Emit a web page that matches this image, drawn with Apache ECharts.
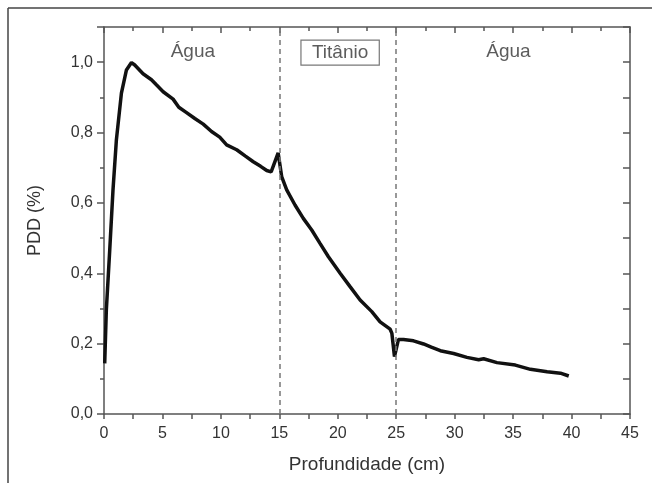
<!DOCTYPE html>
<html>
<head>
<meta charset="utf-8">
<script src="https://cdn.jsdelivr.net/npm/echarts@6/dist/echarts.min.js"></script>
<style>
  html, body { margin: 0; padding: 0; background: #fff; }
  #chart { width: 652px; height: 483px; }
</style>
</head>
<body>
<div id="chart"></div>
<script>
// depth (cm) and PDD
var depth = [0.06, 0.2, 0.49, 0.77, 1.06, 1.49, 1.92, 2.35, 2.63, 3.34, 4.06, 4.5, 5.06, 5.91, 6.4, 7.0, 7.77, 8.49, 9.2, 9.9, 10.49, 11.35, 12.1, 12.77, 13.4, 13.92, 14.3, 14.9, 15.2, 15.63, 16.34, 17.05, 17.77, 18.48, 19.2, 20.2, 21.05, 21.91, 22.91, 23.62, 24.48, 24.63, 24.85, 25.19, 25.62, 26.48, 27.34, 28.0, 28.77, 29.91, 31.05, 32.05, 32.48, 33.62, 35.19, 36.48, 37.91, 39.05, 39.76];
var pdd   = [0.144, 0.296, 0.466, 0.637, 0.779, 0.912, 0.978, 0.999, 0.992, 0.967, 0.950, 0.935, 0.916, 0.895, 0.872, 0.858, 0.840, 0.824, 0.803, 0.787, 0.765, 0.751, 0.733, 0.717, 0.704, 0.692, 0.688, 0.742, 0.675, 0.637, 0.594, 0.556, 0.523, 0.485, 0.447, 0.400, 0.362, 0.324, 0.291, 0.262, 0.241, 0.229, 0.163, 0.212, 0.212, 0.208, 0.199, 0.190, 0.180, 0.172, 0.161, 0.154, 0.157, 0.146, 0.139, 0.127, 0.120, 0.116, 0.108];

var boundaries = [15, 25];

var regionText = ['Água', 'Titânio', 'Água'];
var regionX = [7.6, 20.2, 34.6];
var regionY = [1.03, 1.027, 1.03];

var yTicks = ['0,0', '0,2', '0,4', '0,6', '0,8', '1,0'];

var points = depth.map(function (d, i) { return [d, pdd[i]]; });

var labelPoints = regionText.map(function (t, i) {
  var item = { name: t, value: [regionX[i], regionY[i]] };
  if (t === 'Titânio') {
    item.label = {
      borderColor: '#555',
      borderWidth: 1.2,
      padding: [3, 11, 3, 11]
    };
  }
  return item;
});

var axisCol = '#555';
var textCol = '#333';

var chart = echarts.init(document.getElementById('chart'));
chart.setOption({
  animation: false,
  backgroundColor: '#fff',
  textStyle: { fontFamily: 'Liberation Sans, Arial, sans-serif' },
  grid: { left: 104, right: 22, top: 27, bottom: 69, containLabel: false },
  graphic: [
    { type: 'line', shape: { x1: 8, y1: 8, x2: 652, y2: 8 }, style: { stroke: '#444', lineWidth: 1.5 } },
    { type: 'line', shape: { x1: 8, y1: 8, x2: 8, y2: 483 }, style: { stroke: '#444', lineWidth: 1.5 } }
  ],
  xAxis: [{
    type: 'value', min: 0, max: 45, interval: 5, position: 'bottom',
    name: 'Profundidade (cm)', nameLocation: 'middle', nameGap: 41,
    nameTextStyle: { fontSize: 19, color: textCol },
    axisLine: { show: true, onZero: false, lineStyle: { color: axisCol, width: 1.5 } },
    axisTick: { show: true, inside: false, length: 5, lineStyle: { color: axisCol, width: 1.5 } },
    minorTick: { show: true, splitNumber: 2, length: 5, lineStyle: { color: axisCol, width: 1.5 } },
    axisLabel: { fontSize: 16, color: textCol, margin: 12 },
    splitLine: { show: false }
  }, {
    type: 'value', min: 0, max: 45, interval: 5, position: 'top',
    axisLine: { show: true, onZero: false, lineStyle: { color: axisCol, width: 1.5 } },
    axisTick: { show: true, inside: true, length: 6, lineStyle: { color: axisCol, width: 1.5 } },
    minorTick: { show: true, splitNumber: 2, length: 4, lineStyle: { color: axisCol, width: 1.5 } },
    axisLabel: { show: false },
    splitLine: { show: false }
  }],
  yAxis: [{
    type: 'value', min: 0, max: 1.1, interval: 0.2, position: 'left',
    name: 'PDD (%)', nameLocation: 'middle', nameGap: 60, nameRotate: 90,
    nameTextStyle: { fontSize: 18, color: textCol },
    axisLine: { show: true, onZero: false, lineStyle: { color: axisCol, width: 1.5 } },
    axisTick: { show: true, inside: false, length: 7, lineStyle: { color: axisCol, width: 1.5 } },
    minorTick: { show: true, splitNumber: 2, length: 4, lineStyle: { color: axisCol, width: 1.5 } },
    axisLabel: {
      fontSize: 16, color: textCol, margin: 11,
      formatter: function (v) {
        var i = Math.round(v / 0.2);
        return Math.abs(v - i * 0.2) < 1e-6 ? yTicks[i] : '';
      }
    },
    splitLine: { show: false }
  }, {
    type: 'value', min: 0, max: 1.1, interval: 0.1, position: 'right',
    axisLine: { show: true, onZero: false, lineStyle: { color: axisCol, width: 1.5 } },
    axisTick: { show: true, inside: true, length: 7, lineStyle: { color: axisCol, width: 1.5 } },
    axisLabel: { show: false },
    splitLine: { show: false }
  }],
  series: [{
    type: 'line',
    data: points,
    symbol: 'none',
    lineStyle: { color: '#111', width: 3.5 },
    z: 3,
    markLine: {
      silent: true,
      symbol: 'none',
      label: { show: false },
      lineStyle: { color: '#777', type: [5, 4], width: 1.5 },
      data: boundaries.map(function (b) { return { xAxis: b }; })
    }
  }, {
    type: 'scatter',
    data: labelPoints,
    symbolSize: 0,
    silent: true,
    label: {
      show: true, position: 'inside', formatter: '{b}',
      fontSize: 19, color: textCol
    }
  }]
});
</script>
</body>
</html>
